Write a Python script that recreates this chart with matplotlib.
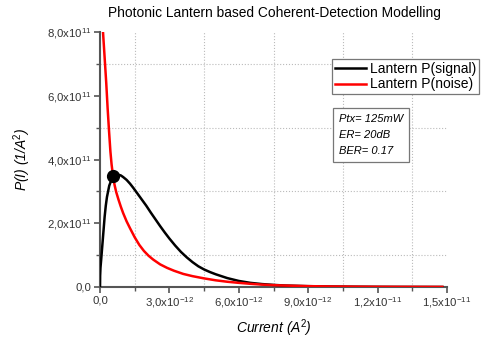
import numpy as np
import matplotlib
matplotlib.use("Agg")
import matplotlib.pyplot as plt
from matplotlib.ticker import FixedLocator, FuncFormatter
from matplotlib.lines import Line2D

plt.rcParams['font.family'] = ['Liberation Sans', 'DejaVu Sans']
plt.rcParams['mathtext.fontset'] = 'custom'
plt.rcParams['mathtext.rm'] = 'Liberation Sans'
plt.rcParams['mathtext.it'] = 'Liberation Sans:italic'

# values (x in 1e-12 A^2, y in 1e11 1/A^2)
sig_x = [0, 0.005, 0.02, 0.05, 0.1, 0.15, 0.2, 0.25, 0.3, 0.4, 0.5, 0.6,
         0.7, 0.8, 0.9, 1.0, 1.15, 1.3, 1.45, 1.6, 1.8, 2.0, 2.2, 2.4, 2.6,
         2.8, 3.0, 3.25, 3.5, 3.75, 4.0, 4.25, 4.5, 4.75, 5.0, 5.5, 6.0,
         6.5, 7.0, 7.5, 8.0, 9.0, 10.0, 11.0, 12.0, 13.0, 14.0, 14.8]
sig_y = [0, 0.35, 0.6, 0.85, 1.3, 1.75, 2.2, 2.55, 2.82, 3.18, 3.37, 3.46,
         3.5, 3.52, 3.5, 3.45, 3.36, 3.24, 3.1, 2.95, 2.75, 2.55, 2.33, 2.12,
         1.91, 1.71, 1.52, 1.3, 1.1, 0.93, 0.78, 0.65, 0.55, 0.47, 0.4,
         0.28, 0.19, 0.13, 0.092, 0.066, 0.046, 0.026, 0.015, 0.009, 0.005,
         0.003, 0.002, 0.001]

noise_x = [0.1, 0.13, 0.2, 0.27, 0.33, 0.39, 0.45, 0.5, 0.56, 0.63, 0.7,
           0.8, 0.9, 1.0, 1.15, 1.3, 1.5, 1.7, 1.9, 2.1, 2.3, 2.6, 2.9, 3.2,
           3.6, 4.0, 4.5, 5.0, 5.5, 6.0, 6.5, 7.0, 7.5, 8.0, 9.0, 10.0, 11.0,
           12.0, 13.0, 14.0, 14.8]
noise_y = [8.4, 8.0, 7.2, 6.4, 5.6, 4.9, 4.25, 3.85, 3.5, 3.2, 2.98,
           2.74, 2.52, 2.32, 2.06, 1.84, 1.56, 1.32, 1.13, 0.98, 0.86, 0.71,
           0.6, 0.51, 0.41, 0.34, 0.27, 0.21, 0.165, 0.13, 0.1, 0.075, 0.058,
           0.045, 0.027, 0.016, 0.01, 0.006, 0.004, 0.003, 0.002]

cross_x = [0.57]
cross_y = [3.47]

x_major = [0, 3e-12, 6e-12, 9e-12, 1.2e-11, 1.5e-11]
x_minor = [1.5e-12, 4.5e-12, 7.5e-12, 1.05e-11, 1.35e-11]
y_major = [0, 2e11, 4e11, 6e11, 8e11]
y_minor = [1e11, 3e11, 5e11, 7e11]

current_sig = np.array(sig_x) * 1e-12
p_sig = np.array(sig_y) * 1e11
current_noise = np.array(noise_x) * 1e-12
p_noise = np.array(noise_y) * 1e11


def sci_comma(v, pos):
    if abs(v) < 1e-30:
        return '0,0'
    e = int(np.floor(np.log10(abs(v)) + 1e-9))
    m = v / 10.0**e
    return ('%.1f' % m).replace('.', ',') + 'x10$^{%d}$' % e


fig = plt.figure(figsize=(4.86, 3.40), dpi=100)
ax = fig.add_axes([100/486, 53/340, 347/486, 255/340])

ax.plot(current_sig, p_sig, color='black', lw=1.8, zorder=3)
ax.plot(current_noise, p_noise, color='red', lw=1.8, zorder=3)
ax.plot(np.array(cross_x)*1e-12, np.array(cross_y)*1e11, 'o',
        color='black', ms=8.5, zorder=4)

ax.set_xlim(0, 1.5e-11)
ax.set_ylim(0, 8e11)
ax.xaxis.set_major_locator(FixedLocator(x_major))
ax.xaxis.set_minor_locator(FixedLocator(x_minor))
ax.yaxis.set_major_locator(FixedLocator(y_major))
ax.yaxis.set_minor_locator(FixedLocator(y_minor))
ax.xaxis.set_major_formatter(FuncFormatter(sci_comma))
ax.yaxis.set_major_formatter(FuncFormatter(sci_comma))
ax.xaxis.get_offset_text().set_visible(False)
ax.yaxis.get_offset_text().set_visible(False)

ax.grid(False)
ax.grid(which='minor', color='#bbbbbb', ls=':', lw=0.8)

for s in ['top', 'right']:
    ax.spines[s].set_visible(False)
for s in ['left', 'bottom']:
    ax.spines[s].set_color('#555555')
    ax.spines[s].set_linewidth(1.5)
ax.tick_params(which='major', direction='out', length=4, width=1.2,
               color='#555555', labelsize=8.2, labelcolor='#333333', pad=2)
ax.tick_params(which='minor', direction='out', length=3, width=1.0,
               color='#555555')

ax.set_xlabel('Current (A$^2$)', fontsize=10, style='italic', labelpad=5)
ax.set_ylabel('P(I) (1/A$^2$)', fontsize=10, style='italic', labelpad=10)

fig.text(274.5/486, 1 - 13/340,
         'Photonic Lantern based Coherent-Detection Modelling',
         ha='center', va='center', fontsize=9.9)

handles = [Line2D([], [], color='black', lw=1.8),
           Line2D([], [], color='red', lw=1.8)]
leg = ax.legend(handles, ['Lantern P(signal)', 'Lantern P(noise)'],
                loc='upper right', bbox_to_anchor=(479/486, 1 - 59/340),
                bbox_transform=fig.transFigure, fontsize=10, fancybox=False,
                framealpha=1, edgecolor='#777777', handlelength=2.2,
                handletextpad=0.3, borderpad=0.2, labelspacing=0.12,
                borderaxespad=0)
leg.get_frame().set_linewidth(0.9)

fig.text(339/486, 1 - 114/340, 'Ptx= 125mW\nER= 20dB\nBER= 0.17',
         ha='left', va='top', fontsize=8, style='italic', linespacing=1.75,
         bbox=dict(boxstyle='square,pad=0.55', fc='white', ec='#777777',
                   lw=0.9))

fig.savefig('out.png', dpi=100)
